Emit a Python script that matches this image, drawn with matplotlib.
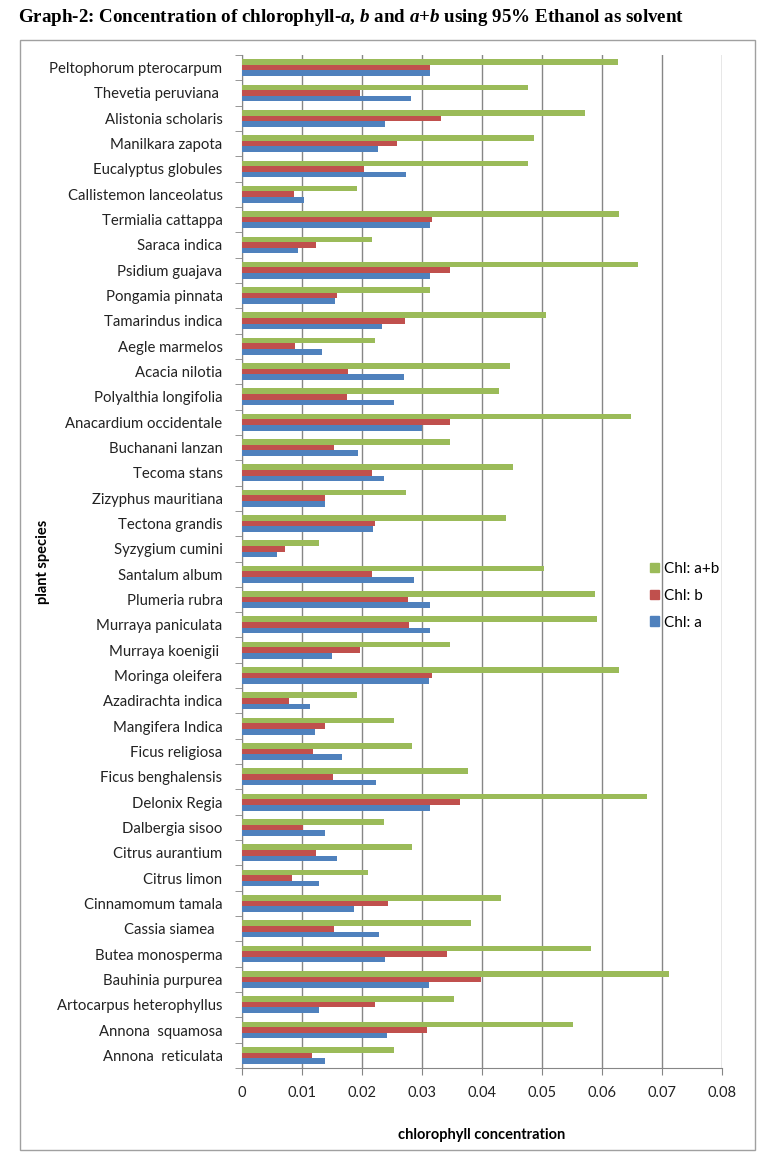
import matplotlib
matplotlib.use('Agg')
import matplotlib.pyplot as plt
from matplotlib.patches import Rectangle, Patch
import numpy as np

# plant species, top to bottom as in the chart
species = [
    'Peltophorum pterocarpum', 'Thevetia peruviana ', 'Alistonia scholaris',
    'Manilkara zapota', 'Eucalyptus globules', 'Callistemon lanceolatus',
    'Termialia cattappa', 'Saraca indica', 'Psidium guajava', 'Pongamia pinnata',
    'Tamarindus indica', 'Aegle marmelos', 'Acacia nilotia', 'Polyalthia longifolia',
    'Anacardium occidentale', 'Buchanani lanzan', 'Tecoma stans',
    'Zizyphus mauritiana', 'Tectona grandis', 'Syzygium cumini', 'Santalum album',
    'Plumeria rubra', 'Murraya paniculata', 'Murraya koenigii ', 'Moringa oleifera',
    'Azadirachta indica', 'Mangifera Indica', 'Ficus religiosa',
    'Ficus benghalensis', 'Delonix Regia', 'Dalbergia sisoo', 'Citrus aurantium',
    'Citrus limon', 'Cinnamomum tamala', 'Cassia siamea  ', 'Butea monosperma',
    'Bauhinia purpurea', 'Artocarpus heterophyllus', 'Annona  squamosa',
    'Annona  reticulata',
]

chl_ab = [
    0.0626, 0.0476, 0.0572, 0.0486, 0.0477, 0.0191, 0.0629, 0.0216, 0.0660, 0.0314,
    0.0506, 0.0221, 0.0446, 0.0429, 0.0648, 0.0347, 0.0452, 0.0274, 0.0440, 0.0129,
    0.0503, 0.0589, 0.0591, 0.0347, 0.0629, 0.0191, 0.0253, 0.0284, 0.0376, 0.0675,
    0.0236, 0.0283, 0.0210, 0.0432, 0.0381, 0.0581, 0.0711, 0.0353, 0.0551, 0.0254,
]
chl_b = [
    0.0314, 0.0196, 0.0332, 0.0259, 0.0203, 0.0087, 0.0317, 0.0123, 0.0347, 0.0159,
    0.0272, 0.0088, 0.0177, 0.0175, 0.0347, 0.0153, 0.0216, 0.0138, 0.0221, 0.0072,
    0.0217, 0.0276, 0.0278, 0.0197, 0.0317, 0.0078, 0.0138, 0.0119, 0.0152, 0.0363,
    0.0101, 0.0124, 0.0083, 0.0244, 0.0153, 0.0341, 0.0399, 0.0221, 0.0309, 0.0116,
]
chl_a = [
    0.0314, 0.0281, 0.0239, 0.0227, 0.0273, 0.0104, 0.0314, 0.0093, 0.0314, 0.0155,
    0.0234, 0.0133, 0.0270, 0.0253, 0.0300, 0.0194, 0.0237, 0.0138, 0.0219, 0.0058,
    0.0286, 0.0314, 0.0314, 0.0150, 0.0312, 0.0113, 0.0121, 0.0167, 0.0224, 0.0314,
    0.0138, 0.0159, 0.0128, 0.0187, 0.0228, 0.0239, 0.0312, 0.0129, 0.0241, 0.0138,
]

xticks = [0, 0.01, 0.02, 0.03, 0.04, 0.05, 0.06, 0.07, 0.08]
xticklabels = ['0', '0.01', '0.02', '0.03', '0.04', '0.05', '0.06', '0.07', '0.08']

GREEN = '#9BBB59'
RED = '#C0504D'
BLUE = '#4F81BD'
GRID = '#868686'
sans = ['Lato', 'DejaVu Sans']

plt.rcParams['mathtext.fontset'] = 'custom'
plt.rcParams['mathtext.it'] = 'Liberation Serif:bold:italic'
plt.rcParams['mathtext.rm'] = 'Liberation Serif:bold'

W, H = 768, 1163
fig = plt.figure(figsize=(W / 100, H / 100), dpi=100)
ax = fig.add_axes([242 / W, 1 - 1068 / H, 480 / W, (1068 - 55) / H])

n = len(species)
y = np.arange(n)
h = 0.222
ax.barh(y - h, chl_ab, height=h, color=GREEN, label='Chl: a+b', zorder=3)
ax.barh(y, chl_b, height=h, color=RED, label='Chl: b', zorder=3)
ax.barh(y + h, chl_a, height=h, color=BLUE, label='Chl: a', zorder=3)

ax.set_ylim(n - 0.5, -0.5)
ax.set_xlim(0, 0.08)

ax.set_yticks(y)
ax.set_yticklabels(species, family=sans, fontsize=10.7, color='#222222')
ax.set_yticks(np.arange(n + 1) - 0.5, minor=True)
ax.tick_params(axis='y', which='major', length=0, pad=14)
ax.tick_params(axis='y', which='minor', length=5, color=GRID, direction='out')

ax.set_xticks(xticks)
ax.set_xticklabels(xticklabels, family=sans, fontsize=10.5, color='#222222')
ax.tick_params(axis='x', length=5, color=GRID, direction='out', pad=8)
ax.xaxis.grid(True, color=GRID, linewidth=1, zorder=0)

for s in ['top', 'right']:
    ax.spines[s].set_visible(False)
for s in ['left', 'bottom']:
    ax.spines[s].set_color(GRID)

ax.set_xlabel('chlorophyll concentration', family=sans, fontsize=10.5,
              fontweight='bold', labelpad=20)
ax.set_ylabel('plant species', family=sans, fontsize=10.5, fontweight='bold')
ax.yaxis.set_label_coords((50 - 242) / 480, 0.5)

handles = [Patch(color=GREEN), Patch(color=RED), Patch(color=BLUE)]
fig.legend(handles, ['Chl: a+b', 'Chl: b', 'Chl: a'], loc='upper left',
           bbox_to_anchor=(636 / W, 1 - 548 / H), frameon=False,
           prop={'family': sans, 'size': 11}, handlelength=0.6,
           handleheight=0.6, handletextpad=0.3, labelspacing=0.85)

fig.patches.append(Rectangle((20 / W, 1 - 1150 / H), 735 / W, 1110 / H,
                             transform=fig.transFigure, fill=False,
                             edgecolor='#A0A0A0', linewidth=1))

fig.text(18 / W, 1 - 18 / H,
         r'Graph-2: Concentration of chlorophyll-$\mathit{a}$, $\mathit{b}$ and '
         r'$\mathit{a}$+$\mathit{b}$ using 95% Ethanol as solvent',
         family='Liberation Serif', fontweight='bold', fontsize=13.7,
         va='center', ha='left')

fig.savefig('out.png', dpi=100)
